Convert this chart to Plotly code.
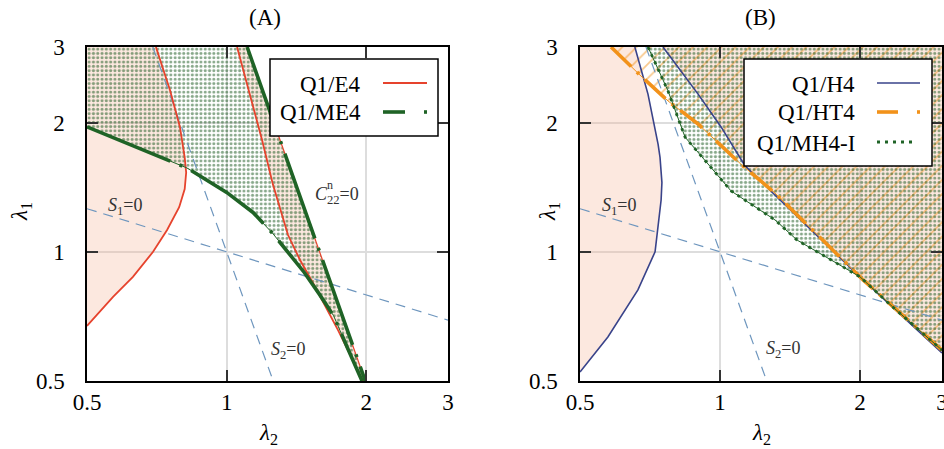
import math
import plotly.graph_objects as go

W, H = 944, 449

# ---- axis limits and ticks (both axes are logarithmic) ----
LAM_MIN, LAM_MAX = 0.5, 3.0
tick_vals = [0.5, 1, 2, 3]
tick_text = ["0.5", "1", "2", "3"]

# ---- reference lines S1 = 0 and S2 = 0 (end points: lambda2, lambda1) ----
s1_lam2 = [0.5, 3.0]
s1_lam1 = [1.26, 0.693]
s2_lam2 = [0.693, 1.26]
s2_lam1 = [3.0, 0.5]

# ---- panel (A) ----
# Q1/E4, outer branch
e4_left_lam2 = [0.5, 0.569, 0.628, 0.694, 0.744, 0.790, 0.812, 0.818, 0.812, 0.793, 0.755, 0.704]
e4_left_lam1 = [0.672, 0.785, 0.874, 1.0, 1.124, 1.27, 1.40, 1.53, 1.66, 1.954, 2.38, 3.0]
# Q1/E4, inner branch
e4_mid_lam2 = [1.053, 1.123, 1.192, 1.259, 1.356, 1.439, 1.535, 1.738, 1.968]
e4_mid_lam1 = [3.0, 2.32, 1.822, 1.43, 1.094, 0.957, 0.846, 0.657, 0.5]
# C22^n = 0
c22_lam2 = [1.107, 1.99]
c22_lam1 = [3.0, 0.5]
# Q1/ME4 lower boundary
me4_lam2 = [0.5, 0.821, 1.0, 1.140, 1.260, 1.370, 1.470, 1.580, 1.70, 1.818, 1.958]
me4_lam1 = [1.954, 1.568, 1.375, 1.235, 1.10, 0.985, 0.895, 0.800, 0.710, 0.600, 0.5]

# ---- panel (B) ----
# Q1/H4, outer branch
h4_left_lam2 = [0.5, 0.574, 0.666, 0.725, 0.747, 0.750, 0.743, 0.736, 0.700, 0.656]
h4_left_lam1 = [0.525, 0.633, 0.815, 1.0, 1.32, 1.45, 1.66, 1.78, 2.33, 3.0]
# Q1/H4, upper branch
h4_right_lam2 = [0.754, 0.897, 1.005, 1.132, 1.346, 2.03, 3.0]
h4_right_lam1 = [3.0, 2.33, 1.954, 1.585, 1.32, 0.86, 0.581]
# Q1/HT4
ht4_lam2 = [0.583, 0.673, 0.773, 0.897, 1.109, 1.313, 2.03, 3.0]
ht4_lam1 = [3.0, 2.58, 2.246, 1.985, 1.60, 1.37, 0.86, 0.59]
# Q1/MH4-I
mh4_lam2 = [0.700, 0.773, 0.841, 0.942, 1.056, 1.313, 1.464, 2.0, 2.35, 3.0]
mh4_lam1 = [3.0, 2.37, 1.85, 1.60, 1.386, 1.186, 1.065, 0.874, 0.744, 0.59]

# ---- styles ----
RED = "#e6432d"
GREEN = "#1f6326"
DOTGREEN = "#0f5216"
NAVY = "#39438a"
ORANGE = "#f2921a"
REFBLUE = "rgb(110,150,190)"
PINK = "rgba(246,178,150,0.30)"
GRID = "#dddddd"
SERIF = "Liberation Serif"

fig = go.Figure()


def region(xs, ys, axes, **kw):
    fig.add_trace(go.Scatter(x=xs, y=ys, mode="lines", fill="toself",
                             line=dict(width=0), hoverinfo="skip",
                             showlegend=False, xaxis=axes[0], yaxis=axes[1], **kw))


def curve(xs, ys, axes, color, width, dash="solid"):
    fig.add_trace(go.Scatter(x=xs, y=ys, mode="lines",
                             line=dict(color=color, width=width, dash=dash),
                             hoverinfo="skip", showlegend=False,
                             xaxis=axes[0], yaxis=axes[1]))


dots = dict(shape=".", size=4.3, solidity=0.4, fgcolor=DOTGREEN,
            bgcolor="rgba(0,0,0,0)", fillmode="overlay")
hatch = dict(shape="/", size=10, solidity=0.18, fgcolor=ORANGE,
             bgcolor="rgba(0,0,0,0)", fillmode="overlay")

# ================= panel (A) =================
A = ("x", "y")
# E4 regions
region(e4_left_lam2 + [LAM_MIN], e4_left_lam1 + [LAM_MAX], A, fillcolor=PINK)
region(e4_mid_lam2 + c22_lam2[::-1], e4_mid_lam1 + c22_lam1[::-1], A, fillcolor=PINK)
# ME4 region
region([LAM_MIN] + me4_lam2 + c22_lam2[::-1], [LAM_MAX] + me4_lam1 + c22_lam1[::-1], A,
       fillcolor="rgba(0,0,0,0)", fillpattern=dots)
# reference lines
curve(s1_lam2, s1_lam1, A, REFBLUE, 1.2, "10px,7px")
curve(s2_lam2, s2_lam1, A, REFBLUE, 1.2, "10px,7px")
# E4 curves
curve(e4_left_lam2, e4_left_lam1, A, RED, 1.8)
curve(e4_mid_lam2, e4_mid_lam1, A, RED, 1.8)
curve(c22_lam2, c22_lam1, A, RED, 1.2)
# ME4 boundary
curve(me4_lam2, me4_lam1, A, GREEN, 1.0)
curve(me4_lam2, me4_lam1, A, GREEN, 3.6, "90px,10px,3px,10px")
curve(c22_lam2, c22_lam1, A, GREEN, 3.6, "90px,10px,3px,10px")

# ================= panel (B) =================
B = ("x2", "y2")
region(h4_left_lam2 + [LAM_MIN], h4_left_lam1 + [LAM_MAX], B, fillcolor=PINK)
region(h4_right_lam2 + [LAM_MAX], h4_right_lam1 + [LAM_MAX], B, fillcolor=PINK)
region(ht4_lam2 + [LAM_MAX], ht4_lam1 + [LAM_MAX], B,
       fillcolor="rgba(0,0,0,0)", fillpattern=hatch)
region(mh4_lam2 + [LAM_MAX], mh4_lam1 + [LAM_MAX], B,
       fillcolor="rgba(0,0,0,0)", fillpattern=dots)
curve(s1_lam2, s1_lam1, B, REFBLUE, 1.2, "10px,7px")
curve(s2_lam2, s2_lam1, B, REFBLUE, 1.2, "10px,7px")
curve(h4_left_lam2, h4_left_lam1, B, NAVY, 1.6)
curve(h4_right_lam2, h4_right_lam1, B, NAVY, 1.6)
curve(ht4_lam2, ht4_lam1, B, ORANGE, 1.0)
curve(ht4_lam2, ht4_lam1, B, ORANGE, 3.6, "28px,8px,3px,8px")
curve(mh4_lam2, mh4_lam1, B, GREEN, 1.0)
curve(mh4_lam2, mh4_lam1, B, GREEN, 2.8, "3px,5px")


# ---- axes ----
def px(x):
    return x / W


def py(y):
    return 1 - y / H


log_range = [math.log10(LAM_MIN), math.log10(LAM_MAX)]
tickfont = dict(family=SERIF, size=23, color="black")
common = dict(type="log", range=log_range, tickvals=tick_vals, ticktext=tick_text,
              ticks="inside", ticklen=11, tickwidth=1.5, tickcolor="#333333",
              showline=True, linecolor="black", linewidth=1.5, mirror="ticks",
              showgrid=True, gridcolor=GRID, gridwidth=1.5, zeroline=False,
              tickfont=tickfont, fixedrange=True, automargin=False,
              ticklabeloverflow="allow")
ydom = [py(381), py(47)]
fig.update_layout(
    xaxis=dict(domain=[px(87), px(448)], anchor="y", ticklabelstandoff=0, **common),
    yaxis=dict(domain=ydom, anchor="x", ticklabelstandoff=16, **common),
    xaxis2=dict(domain=[px(580), px(942)], anchor="y2", ticklabelstandoff=0, **common),
    yaxis2=dict(domain=ydom, anchor="x2", ticklabelstandoff=16, **common),
)

# ---- text ----
ann = []


def text(x, y, s, size=23, color="black", xanchor="center", **kw):
    d = dict(x=px(x), y=py(y), xref="paper", yref="paper", text=s, showarrow=False,
             xanchor=xanchor, yanchor="middle",
             font=dict(family=SERIF, size=size, color=color))
    d.update(kw)
    ann.append(d)


text(265, 18, "(A)")
text(760, 18, "(B)")
text(268, 434, "<i>λ</i><sub>2</sub>")
text(761, 434, "<i>λ</i><sub>2</sub>")
text(21, 212, "<i>λ</i><sub>1</sub>", textangle=-90)
text(549, 212, "<i>λ</i><sub>1</sub>", textangle=-90)

LBL = "#333333"
text(125, 206, "<i>S</i><sub>1</sub>=0", size=18, color=LBL)
text(288, 350, "<i>S</i><sub>2</sub>=0", size=18, color=LBL)
text(313, 195, "<i>C</i><sub>22</sub>=0", size=18, color=LBL, xanchor="left")
text(330, 185, "n", size=12, color=LBL)
text(619, 206, "<i>S</i><sub>1</sub>=0", size=18, color=LBL)
text(783, 349, "<i>S</i><sub>2</sub>=0", size=18, color=LBL)

# legend entries (label right-aligned, sample on the right)
text(363, 84, "Q1/E4", xanchor="right")
text(363, 113, "Q1/ME4", xanchor="right")
text(857, 84, "Q1/H4", xanchor="right")
text(857, 113, "Q1/HT4", xanchor="right")
text(857, 143, "Q1/MH4-I", xanchor="right")

shapes = []


def box(x0, y0, x1, y1):
    shapes.append(dict(type="rect", xref="paper", yref="paper", layer="above",
                       x0=px(x0), x1=px(x1), y0=py(y1), y1=py(y0),
                       fillcolor="white", line=dict(color="black", width=1.5)))


def seg(x0, x1, y, color, width, dash="solid"):
    shapes.append(dict(type="line", xref="paper", yref="paper", layer="above",
                       x0=px(x0), x1=px(x1), y0=py(y), y1=py(y),
                       line=dict(color=color, width=width, dash=dash)))


box(270, 59, 438, 136)
seg(383, 427, 83, RED, 1.8)
seg(383, 405, 112, GREEN, 3.6)
seg(424, 427, 112, GREEN, 3.6)

box(744, 59, 932, 166)
seg(877, 920, 83, NAVY, 1.6)
seg(877, 898, 112, ORANGE, 3.6)
seg(917, 920, 112, ORANGE, 3.6)
seg(877, 914, 142, GREEN, 3, "3px,5px")

fig.update_layout(width=W, height=H,
                  margin=dict(l=0, r=0, t=0, b=0, pad=0, autoexpand=False),
                  paper_bgcolor="white", plot_bgcolor="white",
                  showlegend=False, annotations=ann, shapes=shapes)

fig.write_html("out.html")
